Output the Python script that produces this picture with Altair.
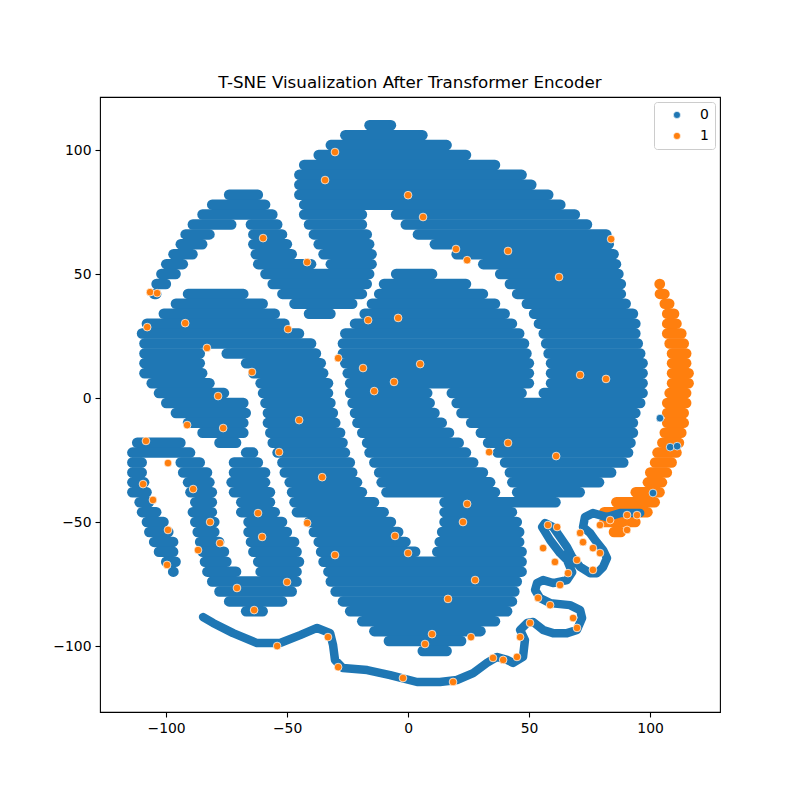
import altair as alt
import pandas as pd

BLUE = "#1f77b4"
ORANGE = "#ff7f0e"

blue_rows = [
    (110, -18, -5),
    (106, -28, 8),
    (102, -34, 18),
    (98, -39, 26),
    (94, -45, 38),
    (90, -47, 49),
    (86, -47, 53),
    (82, -47, 60), (82, -76, -60),
    (78, -45, 65), (78, -83, -57),
    (74, -45, -17), (74, -7, 71), (74, -87, -54),
    (70, -43, -17), (70, -3, 76), (70, -91, -71), (70, -67, -52),
    (66, -41, -15), (66, 2, 84), (66, -94, -80), (66, -66, -50),
    (62, -39, -14), (62, 9, 85), (62, -96, -83), (62, -66, -48),
    (58, -37, -13), (58, 18, 87), (58, -99, -87), (58, -65, -46),
    (54, -64, -38), (54, -34, -13), (54, 29, 88), (54, -102, -91),
    (50, -61, -14), (50, -7, 12), (50, 36, 89), (50, -104, -94),
    (46, -58, -15), (46, -12, 26), (46, 40, 90), (46, -106, -98),
    (42, -54, -17), (42, -93, -66), (42, -14, 33), (42, 43, 90), (42, -107, -102),
    (38, -49, -21), (38, -98, -58), (38, -17, 38), (38, 47, 92),
    (34, -43, -30), (34, -103, -53), (34, -20, 42), (34, 50, 95),
    (30, -110, -49), (30, -24, 45), (30, 52, 96),
    (26, -112, -43), (26, -28, 48), (26, 54, 96),
    (22, -111, -38), (22, -29, 50), (22, 55, 97),
    (18, -111, -84), (18, -77, -36), (18, -29, 51), (18, 56, 98),
    (14, -111, -84), (14, -69, -34), (14, -28, 52), (14, 57, 99),
    (10, -111, -83), (10, -66, -33), (10, -27, 52), (10, 57, 99),
    (6, -108, -80), (6, -63, -31), (6, -26, 52), (6, 57, 99),
    (2, -105, -74), (2, -62, -31), (2, -26, 10), (2, 16, 49), (2, 54, 99),
    (-2, -102, -66), (-2, -61, -30), (-2, -25, 11), (-2, 18, 98),
    (-6, -98, -65), (-6, -60, -29), (-6, -24, 13), (-6, 20, 96),
    (-10, -93, -66), (-10, -60, -28), (-10, -23, 16), (-10, 24, 95),
    (-14, -87, -66), (-14, -59, -26), (-14, -21, 19), (-14, 28, 95),
    (-18, -80, -69), (-18, -114, -92), (-18, -58, -25), (-18, -19, 23), (-18, 31, 94),
    (-22, -116, -88), (-22, -69, -62), (-22, -56, -24), (-22, -18, 26), (-22, 35, 93),
    (-26, -116, -108), (-26, -96, -84), (-26, -74, -60), (-26, -54, -22), (-26, -16, 29), (-26, 38, 91),
    (-30, -116, -108), (-30, -95, -81), (-30, -74, -57), (-30, -53, -21), (-30, -14, 33), (-30, 40, 86),
    (-34, -116, -107), (-34, -93, -80), (-34, -75, -57), (-34, -51, -19), (-34, -13, 36), (-34, 41, 81),
    (-38, -116, -106), (-38, -92, -79), (-38, -74, -55), (-38, -50, -17), (-38, -11, 38), (-38, 43, 73),
    (-42, -113, -105), (-42, -90, -79), (-42, -71, -55), (-42, -49, -12), (-42, 13, 63),
    (-46, -112, -102), (-46, -91, -79), (-46, -71, -53), (-46, -48, -8), (-46, 13, 45),
    (-50, -110, -99), (-50, -90, -78), (-50, -68, -50), (-50, -43, -5), (-50, 13, 47),
    (-54, -109, -97), (-54, -89, -78), (-54, -68, -48), (-54, -41, -2), (-54, 12, 48),
    (-58, -107, -95), (-58, -88, -76), (-58, -67, -45), (-58, -39, 1), (-58, 11, 48),
    (-62, -105, -95), (-62, -87, -74), (-62, -66, -44), (-62, -38, 5), (-62, 10, 49),
    (-66, -102, -94), (-66, -86, -73), (-66, -64, -43), (-66, -37, 49),
    (-70, -99, -95), (-70, -85, -69), (-70, -63, -44), (-70, -35, 49),
    (-74, -83, -44), (-74, -34, 47),
    (-78, -80, -46), (-78, -32, 46),
    (-82, -76, -50), (-82, -29, 45),
    (-86, -69, -58), (-86, -26, 43),
    (-90, -21, 38),
    (-94, -16, 32),
    (-98, -10, 24),
    (-102, 4, 18),
]

# class-1 band on the right edge
orange_rows = [
    (46, 102, 106), (42, 102, 108), (38, 104, 110), (34, 105, 112),
    (30, 105, 113), (26, 105, 115), (22, 106, 116), (18, 107, 117),
    (14, 107, 117), (10, 107, 118), (6, 107, 118), (2, 106, 117),
    (-2, 105, 117), (-6, 105, 116), (-10, 105, 116), (-14, 104, 115),
    (-18, 103, 114), (-22, 101, 113), (-26, 100, 111), (-30, 98, 109),
    (-34, 97, 107), (-38, 92, 106), (-42, 84, 104), (-46, 79, 101),
    (-50, 79, 96), (-54, 83, 90),
]

# thin winding trail along the bottom, in drawing order
trail = [
    (-84.7, -88.3), (-80.6, -90.7), (-72.3, -94.8), (-62.4, -98.8), (-52.9, -98.8),
    (-44.6, -95.6), (-37.6, -92.7), (-32.2, -94.8), (-31.0, -99.6), (-30.2, -105.6),
    (-26.9, -108.9), (-16.9, -109.7), (-7.4, -111.7), (3.7, -114.5), (13.2, -114.5),
    (20.2, -113.7), (26.9, -110.9), (32.6, -106.8), (36.8, -104.4), (40.9, -105.6),
    (43.4, -106.8), (47.5, -104.4), (48.3, -97.6), (46.3, -93.5), (49.2, -90.7),
    (51.7, -90.3), (55.8, -93.5), (59.9, -94.8), (65.7, -94.8), (69.8, -93.5),
    (71.9, -88.7), (71.1, -85.5), (66.9, -83.5), (58.7, -82.7), (54.5, -80.6),
    (52.5, -77.4), (53.3, -74.6), (55.8, -73.4), (59.9, -74.6), (65.7, -73.4),
    (67.8, -70.2), (65.7, -65.3), (62.8, -62.5), (58.7, -57.3), (55.4, -52.0),
    (56.6, -50.4), (59.9, -52.0), (62.8, -56.0), (65.7, -60.1), (67.8, -64.1),
    (71.1, -68.1), (75.2, -70.6), (78.1, -70.6), (80.6, -68.1), (82.2, -64.5),
    (80.6, -61.3), (77.3, -57.3), (75.2, -54.4), (72.3, -52.0), (73.1, -48.0),
    (76.4, -46.4), (82.2, -48.0), (87.6, -46.4), (95.9, -46.4),
]

# single class-0 points sitting inside the class-1 band
blue_dots = [(104.1, -8.1), (108.3, -19.8), (111.2, -19.4), (101.2, -38.3)]

# single class-1 points scattered through the class-0 mass and on the trail
orange_dots = [
    (-59.9, 64.5), (-41.7, 54.8), (-106.6, 42.7), (-103.7, 42.3), (-30.2, 99.2),
    (-34.3, 87.9), (0.0, 81.8), (6.2, 73.0), (19.8, 60.1), (24.4, 55.6),
    (41.3, 59.3), (83.9, 64.1), (62.4, 48.8), (-107.8, 28.6), (-92.1, 30.2),
    (-83.1, 20.2), (-49.6, 27.8), (-64.5, 10.5), (-78.5, 0.8), (-45.0, -8.9),
    (-91.3, -10.9), (-76.4, -12.1), (-53.3, -21.8), (-108.3, -17.3), (-99.2, -26.2),
    (-109.5, -34.7), (-88.8, -36.7), (-105.4, -41.1), (-4.1, 32.3), (-16.5, 31.4),
    (-28.9, 16.1), (-18.6, 12.1), (5.0, 13.7), (-5.8, 6.5), (-14.0, 2.8),
    (-35.5, -31.9), (24.4, -42.7), (33.5, -21.8), (41.3, -18.1), (71.1, 9.3),
    (81.8, 7.7), (61.2, -23.4), (-99.2, -53.2), (-81.8, -50.0), (-77.7, -58.5),
    (-86.8, -61.3), (-62.0, -46.4), (-60.3, -56.0), (-50.0, -74.2), (-63.6, -85.5),
    (-54.1, -100.0), (-70.7, -76.6), (-99.6, -67.3), (22.7, -50.0), (-41.7, -50.4),
    (-5.4, -55.6), (0.0, -62.5), (-30.2, -63.3), (27.7, -73.4), (16.5, -81.0),
    (9.9, -95.2), (26.0, -96.4), (7.0, -99.2), (-33.1, -96.4), (-28.9, -108.5),
    (-2.1, -112.9), (18.6, -114.5), (35.1, -104.8),
    (57.8, -51.2), (61.6, -52.0), (55.8, -60.5), (60.7, -66.1), (66.1, -70.6),
    (62.8, -75.4), (53.7, -80.6), (58.7, -83.5), (68.2, -88.7), (69.8, -92.7),
    (50.4, -90.7), (46.3, -96.4), (45.0, -104.4), (39.3, -105.6), (71.1, -54.4),
    (72.3, -58.1), (76.4, -60.5), (79.3, -62.5), (69.8, -65.3), (76.4, -69.3),
    (79.3, -51.2), (83.5, -49.2), (90.5, -47.2), (94.6, -47.2), (90.5, -53.2),
]

ticks = [-100, -50, 0, 50, 100]
x_scale = alt.Scale(domain=[-127.3, 128.9], nice=False, zero=False)
y_scale = alt.Scale(domain=[-126.6, 121.4], nice=False, zero=False)


def xq(field):
    return alt.X(f"{field}:Q", scale=x_scale,
                 axis=alt.Axis(values=ticks, title=None, grid=False, domain=False))


def yq(field):
    return alt.Y(f"{field}:Q", scale=y_scale,
                 axis=alt.Axis(values=ticks, title=None, grid=False, domain=False))


def runs(rows, color):
    # round caps, pulled in by half the stroke so each run still ends where it was read
    df = pd.DataFrame(rows, columns=["y", "x0", "x1"])
    return alt.Chart(df).mark_rule(
        color=color, strokeWidth=10.5, strokeCap="round", xOffset=5, x2Offset=-5
    ).encode(x=xq("x0"), x2=alt.X2("x1"), y=yq("y"))


trail_df = pd.DataFrame(trail, columns=["x", "y"])
trail_df["step"] = range(len(trail_df))
trail_layer = alt.Chart(trail_df).mark_line(
    color=BLUE, strokeWidth=8.5, strokeCap="round", strokeJoin="round"
).encode(x=xq("x"), y=yq("y"), order="step:Q")

dots = pd.concat([
    pd.DataFrame(blue_dots, columns=["x", "y"]).assign(label="0"),
    pd.DataFrame(orange_dots, columns=["x", "y"]).assign(label="1"),
], ignore_index=True)
dot_layer = alt.Chart(dots).mark_circle(size=60, opacity=1, stroke="white", strokeWidth=0.7).encode(
    x=xq("x"),
    y=yq("y"),
    color=alt.Color("label:N", scale=alt.Scale(domain=["0", "1"], range=[BLUE, ORANGE]),
                    legend=alt.Legend(title=None)),
)

chart = alt.layer(
    runs(blue_rows, BLUE), runs(orange_rows, ORANGE), trail_layer, dot_layer
).properties(
    width=620,
    height=615,
    padding={"left": 92, "top": 89, "right": 60, "bottom": 60},
    autosize=alt.AutoSizeParams(type="none"),
    title=alt.TitleParams(
        "T-SNE Visualization After Transformer Encoder",
        font="DejaVu Sans", fontSize=16.7, fontWeight="normal", color="black",
        offset=5, frame="group",
    ),
).configure_view(
    stroke="black", strokeWidth=1.1
).configure_axis(
    labelFont="DejaVu Sans", labelFontSize=13.9, labelColor="black",
    tickColor="black", tickWidth=1.1, tickSize=5, labelPadding=4,
).configure_legend(
    orient="none", legendX=554, legendY=5, padding=6,
    strokeColor="#cccccc", fillColor="white", cornerRadius=3,
    labelFont="DejaVu Sans", labelFontSize=13.9, labelColor="black",
    symbolType="circle", symbolSize=50, symbolOffset=10, labelOffset=16,
    rowPadding=6, symbolStrokeColor="white", symbolStrokeWidth=0.6,
)

chart.save("out.html", embed_options={"renderer": "svg", "actions": False})
